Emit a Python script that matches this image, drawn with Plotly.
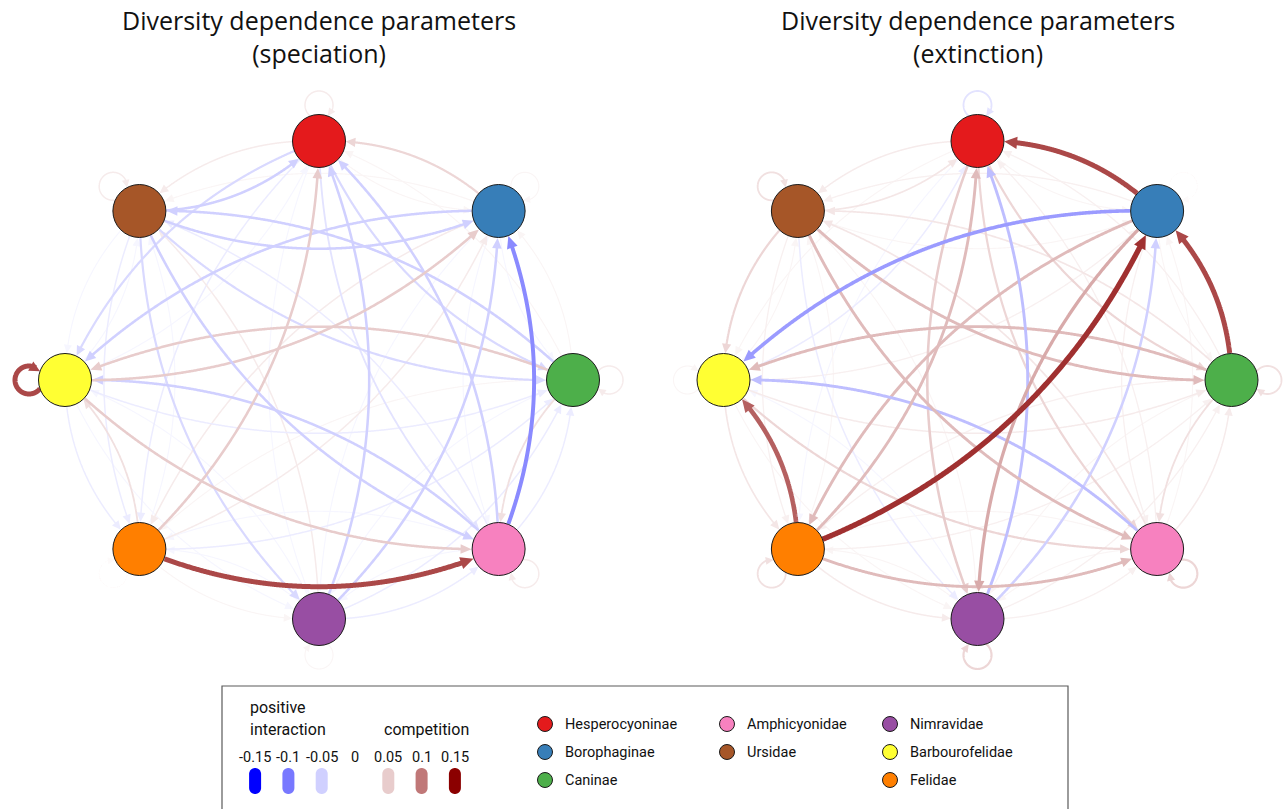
import numpy as np
import plotly.graph_objects as go

# ---------------------------------------------------------------- data
groups = ["Hesperocyoninae", "Borophaginae", "Caninae", "Amphicyonidae",
          "Nimravidae", "Felidae", "Barbourofelidae", "Ursidae"]
group_colors = ["#E41A1C", "#377EB8", "#4DAF4A", "#F781BF",
                "#984EA3", "#FF7F00", "#FFFF33", "#A65628"]

# interaction strength, row = source group, column = target group
# (same order as `groups`); diagonal = self-interaction
speciation = [
    #  Hes    Bor    Can    Amp    Nim    Fel    Bar    Urs
    [ 0.02,  0.01, -0.04, -0.03, -0.01, -0.02, -0.04,  0.02],   # Hesperocyoninae
    [ 0.04,  0.01, -0.01, -0.01, -0.01,  0.02, -0.05,  0.01],   # Borophaginae
    [ 0.01,  0.01,  0.02,  0.03, -0.01,  0.01,  0.05, -0.05],   # Caninae
    [-0.05, -0.09, -0.02,  0.02, -0.01, -0.01, -0.05, -0.02],   # Amphicyonidae
    [-0.05, -0.05, -0.02, -0.02,  0.01, -0.01, -0.01,  0.02],   # Nimravidae
    [ 0.05,  0.02, -0.02,  0.12,  0.01,  0.005, 0.03, -0.01],   # Felidae
    [-0.01,  0.05, -0.02,  0.05, -0.01, -0.02,  0.12, -0.01],   # Barbourofelidae
    [-0.05, -0.05, -0.04, -0.05, -0.04, -0.02, -0.01,  0.02],   # Ursidae
]
extinction = [
    #  Hes    Bor    Can    Amp    Nim    Fel    Bar    Urs
    [-0.03,  0.01,  0.04,  0.04,  0.05, -0.01,  0.01,  0.02],   # Hesperocyoninae
    [ 0.12,  0.005, 0.01,  0.015, 0.07,  0.06, -0.08,  0.015],  # Borophaginae
    [ 0.015, 0.12,  0.03,  0.03,  0.01,  0.015, 0.06,  0.025],  # Caninae
    [ 0.015, 0.01,  0.02,  0.04,  0.01,  0.01, -0.06,  0.025],  # Amphicyonidae
    [-0.06, -0.05,  0.015, 0.015, 0.04,  0.01, -0.01,  0.01],   # Nimravidae
    [ 0.06,  0.13,  0.015, 0.06,  0.02,  0.03,  0.11,  0.01],   # Felidae
    [-0.02,  0.015, 0.02,  0.04,  0.01,  0.025, 0.01,  0.01],   # Barbourofelidae
    [ 0.025, 0.01,  0.06,  0.06, -0.02,  0.015, 0.04,  0.03],   # Ursidae
]

scale_ticks = [-0.15, -0.1, -0.05, 0, 0.05, 0.1, 0.15]
scale_labels = ["-0.15", "-0.1", "-0.05", "0", "0.05", "0.1", "0.15"]

panel_titles = ["Diversity dependence parameters<br>(speciation)",
                "Diversity dependence parameters<br>(extinction)"]

# ---------------------------------------------------------------- layout
W, H = 1287, 809
NODE_R = 26.5
RX, RY = 254, 239
PANEL_CENTERS = [(319.0, 380.0), (977.5, 380.0)]
BEND = 0.21
TITLE_FONT = "Open Sans"
LEGEND_FONT = "Roboto"

NEG_STOPS = [(0.0, (255, 255, 255)), (0.05, (208, 208, 255)),
             (0.10, (120, 120, 255)), (0.15, (0, 0, 255))]
POS_STOPS = [(0.0, (255, 255, 255)), (0.05, (232, 204, 204)),
             (0.10, (192, 120, 120)), (0.15, (139, 0, 0))]


def weight_color(v):
    stops = POS_STOPS if v >= 0 else NEG_STOPS
    a = min(abs(v), 0.15)
    xs = [s[0] for s in stops]
    rgb = [np.interp(a, xs, [s[1][k] for s in stops]) for k in range(3)]
    return "rgb(%d,%d,%d)" % tuple(int(round(c)) for c in rgb)


def weight_width(v):
    return 0.8 + 35 * abs(v)


def path_of(points, close=False):
    s = "M " + " L ".join("%.2f,%.2f" % (p[0], p[1]) for p in points)
    return s + (" Z" if close else "")


def arrow_head(tip, base, half):
    u = tip - base
    u = u / np.hypot(*u)
    perp = np.array([-u[1], u[0]])
    back = tip - u * np.hypot(*(tip - base))
    return [tip, back + half * perp, back - half * perp]


def edge_geometry(p_src, p_dst, v):
    d = p_dst - p_src
    L = np.hypot(*d)
    nrm = np.array([-d[1], d[0]]) / L          # right-hand side of travel
    ctrl = (p_src + p_dst) / 2 + BEND * L * nrm
    t = np.linspace(0, 1, 500)[:, None]
    pts = (1 - t) ** 2 * p_src + 2 * (1 - t) * t * ctrl + t ** 2 * p_dst
    ds = np.hypot(*(pts - p_src).T)
    dt = np.hypot(*(pts - p_dst).T)
    i0 = int(np.argmax(ds >= NODE_R))
    i1 = len(pts) - 1 - int(np.argmax(dt[::-1] >= NODE_R))
    tip = pts[i1]
    alen = 8 + 40 * abs(v)
    dtip = np.hypot(*(pts - tip).T)
    ib = i1 - int(np.argmax(dtip[i1::-1] >= alen))
    il = i1 - int(np.argmax(dtip[i1::-1] >= alen * 0.5))
    return pts[i0:il + 1], arrow_head(tip, pts[ib], 0.48 * alen)


def loop_geometry(center, out_angle, v):
    d = NODE_R + 9.5
    rl = 14.0
    u = np.array([np.cos(out_angle), np.sin(out_angle)])
    lc = center + d * u
    th0 = np.arccos((NODE_R ** 2 - d ** 2 - rl ** 2) / (2 * d * rl))
    th = np.linspace(out_angle - th0, out_angle + th0, 300)
    pts = lc + rl * np.column_stack([np.cos(th), np.sin(th)])
    tip = pts[-1]
    alen = 7 + 30 * abs(v)
    dtip = np.hypot(*(pts - tip).T)
    n = len(pts) - 1
    ib = n - int(np.argmax(dtip[::-1] >= alen))
    il = n - int(np.argmax(dtip[::-1] >= alen * 0.5))
    return pts[:il + 1], arrow_head(tip, pts[ib], 0.5 * alen)


shapes = []
annotations = []
fig = go.Figure()

angles = np.deg2rad(90 - 45 * np.arange(len(groups)))   # clockwise from top

for panel, (weights, title) in enumerate(zip([speciation, extinction], panel_titles)):
    cx, cy = PANEL_CENTERS[panel]
    pos = np.column_stack([cx + RX * np.cos(angles), cy - RY * np.sin(angles)])
    W_ = np.array(weights)

    # weakest first, so the strong links sit on top
    order = sorted(((abs(W_[i, j]), i, j) for i in range(8) for j in range(8)))
    for _, i, j in order:
        v = W_[i, j]
        col = weight_color(v)
        if i == j:
            off = pos[i] - np.array([cx, cy])
            line_pts, head = loop_geometry(pos[i], np.arctan2(off[1], off[0]), v)
        else:
            line_pts, head = edge_geometry(pos[i], pos[j], v)
        shapes.append(dict(type="path", path=path_of(line_pts), xref="x", yref="y",
                           line=dict(color=col, width=weight_width(v)), layer="below"))
        shapes.append(dict(type="path", path=path_of(head, close=True), xref="x", yref="y",
                           fillcolor=col, line=dict(width=0), layer="below"))

    fig.add_trace(go.Scatter(
        x=pos[:, 0], y=pos[:, 1], mode="markers", hoverinfo="text", text=groups,
        marker=dict(size=2 * NODE_R, color=group_colors,
                    line=dict(color="#1a1a1a", width=1)),
        showlegend=False))

    annotations.append(dict(x=cx, y=36, xref="x", yref="y", text=title,
                            showarrow=False, xanchor="center", yanchor="middle",
                            font=dict(family=TITLE_FONT, size=25, color="#111111")))

# ---------------------------------------------------------------- legend box
shapes.append(dict(type="rect", xref="x", yref="y", x0=222, x1=1068, y0=686, y1=830,
                   line=dict(color="#5a5a5a", width=1.2), fillcolor="rgba(0,0,0,0)"))

annotations.append(dict(x=248, y=707, xref="x", yref="y", text="positive", showarrow=False,
                        xanchor="left", yanchor="middle",
                        font=dict(family=LEGEND_FONT, size=16, color="#111")))
annotations.append(dict(x=248, y=729, xref="x", yref="y", text="interaction", showarrow=False,
                        xanchor="left", yanchor="middle",
                        font=dict(family=LEGEND_FONT, size=16, color="#111")))
annotations.append(dict(x=426, y=729, xref="x", yref="y", text="competition", showarrow=False,
                        xanchor="center", yanchor="middle",
                        font=dict(family=LEGEND_FONT, size=16, color="#111")))

for tick, lab in zip(scale_ticks, scale_labels):
    x = 355 + 666 * tick
    annotations.append(dict(x=x, y=757, xref="x", yref="y", text=lab, showarrow=False,
                            xanchor="center", yanchor="middle",
                            font=dict(family=LEGEND_FONT, size=14.5, color="#111")))
    if tick == 0:
        continue
    r = 6.0
    top = np.linspace(np.pi, 2 * np.pi, 20)
    bot = np.linspace(0, np.pi, 20)
    pill = np.vstack([
        np.column_stack([x + r * np.cos(top), 774 + r * np.sin(top)]),
        np.column_stack([x + r * np.cos(bot), 788 + r * np.sin(bot)]),
    ])
    shapes.append(dict(type="path", path=path_of(pill, close=True), xref="x", yref="y",
                       fillcolor=weight_color(tick), line=dict(width=0)))

legend_cols = [[0, 1, 2], [3, 7], [4, 6, 5]]
col_x = [545, 727, 890]
row_y = [724, 752, 780]
lx, ly, lc = [], [], []
for c, members in enumerate(legend_cols):
    for r, g in enumerate(members):
        lx.append(col_x[c])
        ly.append(row_y[r])
        lc.append(group_colors[g])
        annotations.append(dict(x=col_x[c] + 18, y=row_y[r], xref="x", yref="y",
                                text=groups[g], showarrow=False, xanchor="left",
                                yanchor="middle",
                                font=dict(family=LEGEND_FONT, size=14.5, color="#111")))
fig.add_trace(go.Scatter(x=lx, y=ly, mode="markers", hoverinfo="skip", showlegend=False,
                         marker=dict(size=15, color=lc, line=dict(color="#1a1a1a", width=1))))

fig.update_layout(
    width=W, height=H, autosize=False,
    margin=dict(l=0, r=0, t=0, b=0),
    paper_bgcolor="white", plot_bgcolor="white",
    xaxis=dict(range=[0, W], visible=False, fixedrange=True),
    yaxis=dict(range=[H, 0], visible=False, fixedrange=True),
    shapes=shapes, annotations=annotations,
)

fig.write_html("out.html")
